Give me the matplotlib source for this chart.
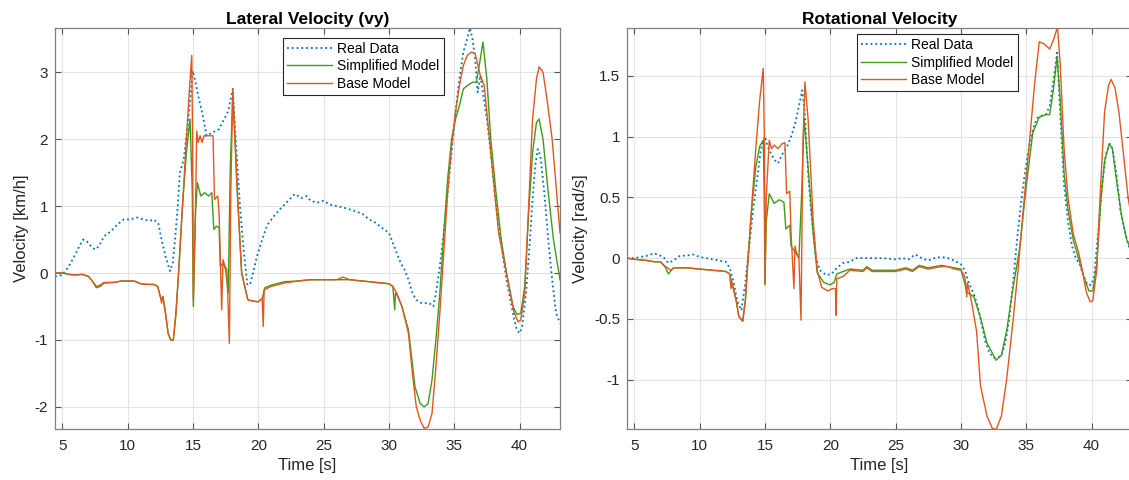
import numpy as np
import matplotlib.pyplot as plt
from matplotlib.ticker import FormatStrFormatter

plt.rcParams['font.family'] = ['Liberation Sans', 'DejaVu Sans']
plt.rcParams['axes.unicode_minus'] = False

# ---- lateral velocity (km/h) ----
lat_real_t = [4.44, 5.0, 5.5, 6.0, 6.3, 6.6, 6.9, 7.2, 7.5, 7.8, 8.2, 8.7, 9.2, 9.7, 10.2,
              10.7, 11.2, 11.7, 12.0, 12.35, 12.6, 12.9, 13.25, 13.45, 13.63, 13.8, 14.0,
              14.3, 14.65, 14.98, 15.2, 15.4, 15.7, 16.05, 16.5, 17.0, 17.4, 17.7, 18.05,
              18.3, 18.6, 18.9, 19.17, 19.4, 19.6, 19.9, 20.3, 20.7, 21.2, 21.7, 22.3, 22.8,
              23.3, 23.7, 24.0, 24.5, 25.0, 25.5, 26.0, 26.5, 27.0, 27.5, 28.0, 28.5, 29.0,
              29.5, 30.0, 30.3, 30.6, 30.9, 31.2, 31.5, 31.8, 32.1, 32.5, 32.8, 33.1, 33.4,
              33.6, 33.9, 34.2, 34.5, 34.8, 35.1, 35.4, 35.7, 36.0, 36.2, 36.4, 36.6, 36.8,
              37.0, 37.2, 37.5, 37.8, 38.1, 38.4, 38.7, 39.0, 39.3, 39.6, 39.8, 40.0, 40.2,
              40.5, 40.8, 41.0, 41.2, 41.4, 41.6, 41.9, 42.2, 42.5, 42.8, 43.1]
lat_real_v = [-0.05, -0.03, 0.1, 0.28, 0.4, 0.5, 0.47, 0.4, 0.35, 0.4, 0.55, 0.62, 0.72,
              0.8, 0.8, 0.83, 0.8, 0.78, 0.8, 0.74, 0.5, 0.25, 0.03, 0.15, 0.5, 0.9, 1.5,
              1.7, 2.3, 3.02, 2.85, 2.65, 2.4, 2.05, 2.1, 2.15, 2.3, 2.42, 2.75, 1.9, 1.0,
              0.3, -0.18, -0.15, 0.0, 0.25, 0.5, 0.72, 0.85, 0.96, 1.08, 1.18, 1.12, 1.15,
              1.08, 1.05, 1.08, 1.02, 1.0, 0.98, 0.95, 0.92, 0.88, 0.8, 0.75, 0.67, 0.6,
              0.45, 0.3, 0.15, 0.05, -0.1, -0.3, -0.4, -0.45, -0.45, -0.45, -0.5, -0.3, 0.1,
              0.6, 1.2, 1.8, 2.4, 2.9, 3.3, 3.5, 3.66, 3.5, 3.2, 2.7, 2.95, 2.7, 2.3, 1.8,
              1.2, 0.7, 0.3, -0.1, -0.4, -0.7, -0.85, -0.9, -0.8, -0.3, 0.5, 1.1, 1.6, 1.85,
              1.75, 1.2, 0.5, -0.1, -0.6, -0.75]

lat_simp_t = [4.44, 5.0, 5.5, 6.0, 6.5, 7.0, 7.3, 7.6, 7.9, 8.2, 9.0, 9.5, 10.0, 10.5, 11.0,
              11.5, 12.0, 12.3, 12.5, 12.6, 12.7, 12.9, 13.1, 13.3, 13.5, 13.7, 13.9, 14.2,
              14.5, 14.78, 14.95, 15.03, 15.2, 15.34, 15.6, 15.9, 16.2, 16.44, 16.6, 16.8,
              17.0, 17.1, 17.3, 17.5, 17.7, 17.85, 18.05, 18.4, 18.73, 19.2, 19.6, 20.0,
              20.3, 20.5, 21.0, 22.0, 23.0, 24.0, 25.0, 26.0, 27.0, 28.0, 29.0, 30.0, 30.3,
              30.45, 30.5, 30.6, 31.0, 31.5, 32.0, 32.4, 32.7, 33.0, 33.3, 33.6, 33.9, 34.2,
              34.5, 34.8, 35.1, 35.4, 35.7, 36.0, 36.4, 36.7, 37.0, 37.2, 37.5, 37.8, 38.2,
              38.6, 39.0, 39.5, 39.8, 40.1, 40.4, 40.7, 41.0, 41.3, 41.5, 41.8, 42.2, 42.6,
              43.1]
lat_simp_v = [0.0, 0.0, -0.02, -0.03, -0.02, -0.05, -0.12, -0.22, -0.2, -0.15, -0.14, -0.12,
              -0.12, -0.12, -0.16, -0.17, -0.17, -0.2, -0.35, -0.4, -0.35, -0.6, -0.9, -1.0,
              -1.0, -0.6, 0.0, 1.0, 1.8, 2.3, 1.2, -0.5, 0.9, 1.35, 1.15, 1.2, 1.15, 1.2,
              0.65, 0.7, 0.68, 0.1, 0.15, 0.05, -0.3, 1.5, 2.7, 1.2, 0.0, -0.4, -0.42, -0.43,
              -0.38, -0.22, -0.18, -0.13, -0.12, -0.1, -0.1, -0.1, -0.1, -0.12, -0.14, -0.16,
              -0.2, -0.55, -0.3, -0.32, -0.5, -0.85, -1.7, -1.95, -2.0, -1.95, -1.6, -1.0,
              -0.3, 0.6, 1.4, 2.0, 2.3, 2.5, 2.75, 2.8, 2.85, 2.85, 3.2, 3.45, 2.9, 2.0, 1.2,
              0.5, 0.0, -0.5, -0.62, -0.6, -0.2, 0.9, 1.8, 2.25, 2.3, 2.0, 1.2, 0.5, -0.1]

lat_base_t = [4.44, 5.0, 5.5, 6.0, 6.5, 7.0, 7.3, 7.6, 7.9, 8.2, 9.0, 9.5, 10.0, 10.5, 11.0,
              11.5, 12.0, 12.3, 12.5, 12.6, 12.7, 12.9, 13.1, 13.3, 13.5, 13.7, 13.9, 14.2,
              14.5, 14.75, 14.91, 14.97, 15.03, 15.2, 15.29, 15.4, 15.55, 15.7, 15.85, 16.2,
              16.54, 16.65, 16.9, 17.0, 17.2, 17.3, 17.45, 17.6, 17.79, 17.9, 18.05, 18.4,
              18.73, 19.2, 19.6, 20.0, 20.3, 20.38, 20.45, 21.0, 22.0, 23.0, 24.0, 25.0,
              26.0, 26.5, 27.0, 28.0, 29.0, 30.0, 30.3, 30.6, 31.0, 31.5, 31.8, 32.1, 32.4,
              32.7, 33.0, 33.3, 33.6, 33.9, 34.2, 34.5, 34.8, 35.1, 35.4, 35.7, 36.0, 36.3,
              36.6, 37.0, 37.3, 37.6, 38.0, 38.4, 38.8, 39.2, 39.6, 39.9, 40.1, 40.4, 40.7,
              41.0, 41.3, 41.5, 41.8, 42.1, 42.5, 42.8, 43.1]
lat_base_v = [0.0, 0.0, -0.02, -0.03, -0.02, -0.05, -0.12, -0.2, -0.18, -0.14, -0.14, -0.12,
              -0.12, -0.12, -0.16, -0.17, -0.17, -0.2, -0.35, -0.45, -0.35, -0.6, -0.9, -1.0,
              -1.0, -0.6, 0.0, 1.0, 2.0, 2.8, 3.25, 2.0, -0.4, 1.0, 2.12, 1.95, 2.05, 1.95,
              2.05, 2.05, 2.05, 1.1, 1.15, 0.9, -0.55, 0.2, 0.1, 0.05, -1.05, 1.2, 2.75, 1.2,
              0.0, -0.4, -0.42, -0.43, -0.38, -0.8, -0.25, -0.2, -0.15, -0.12, -0.1, -0.1,
              -0.1, -0.06, -0.1, -0.12, -0.14, -0.16, -0.2, -0.3, -0.5, -0.9, -1.5, -2.0,
              -2.2, -2.32, -2.3, -2.1, -1.4, -0.6, 0.3, 1.2, 1.9, 2.4, 2.8, 3.1, 3.25, 3.3,
              3.28, 2.95, 2.8, 2.2, 1.4, 0.6, 0.2, -0.2, -0.6, -0.73, -0.7, -0.3, 1.0, 2.3,
              2.9, 3.08, 3.0, 2.6, 2.0, 1.3, 0.6]

# ---- rotational velocity (rad/s) ----
rot_real_t = [4.44, 5.0, 5.5, 6.0, 6.5, 7.0, 7.3, 7.6, 8.0, 8.5, 9.0, 9.5, 10.0, 10.5, 11.0,
              11.5, 12.0, 12.3, 12.6, 12.9, 13.2, 13.5, 13.8, 14.1, 14.4, 14.7, 15.0, 15.2,
              15.5, 15.8, 16.0, 16.3, 16.7, 17.0, 17.3, 17.6, 17.85, 18.05, 18.3, 18.6, 18.9,
              19.2, 19.7, 20.1, 20.5, 21.0, 21.5, 22.0, 23.0, 24.0, 25.0, 25.5, 26.0, 26.5,
              27.0, 27.5, 28.0, 28.5, 29.0, 29.5, 30.0, 30.3, 30.6, 31.0, 31.3, 31.6, 31.9,
              32.2, 32.5, 32.8, 33.1, 33.4, 33.7, 34.0, 34.3, 34.6, 34.9, 35.2, 35.5, 35.8,
              36.1, 36.5, 36.8, 37.0, 37.2, 37.37, 37.6, 37.9, 38.2, 38.5, 38.8, 39.1, 39.4,
              39.7, 40.0, 40.2, 40.5, 40.8, 41.1, 41.4, 41.6, 41.9, 42.2, 42.6, 43.1]
rot_real_v = [0.0, 0.0, 0.01, 0.02, 0.04, 0.02, 0.0, -0.04, -0.02, 0.02, 0.02, 0.03, 0.01,
              0.0, -0.01, -0.02, -0.03, -0.08, -0.2, -0.36, -0.43, -0.2, 0.1, 0.4, 0.65, 0.9,
              1.0, 0.92, 0.85, 0.8, 0.78, 0.85, 0.92, 1.0, 1.1, 1.25, 1.38, 1.2, 0.7, 0.3,
              0.0, -0.1, -0.14, -0.13, -0.08, -0.04, -0.03, 0.0, 0.0, 0.0, -0.01, 0.0, -0.01,
              0.03, 0.0, -0.02, 0.0, 0.01, 0.0, -0.02, -0.05, -0.1, -0.2, -0.3, -0.4, -0.55,
              -0.7, -0.78, -0.82, -0.82, -0.8, -0.7, -0.5, -0.2, 0.15, 0.45, 0.7, 0.9, 1.05,
              1.15, 1.17, 1.18, 1.25, 1.4, 1.55, 1.69, 1.2, 0.6, 0.3, 0.1, 0.0, -0.05, -0.15,
              -0.22, -0.22, -0.15, 0.2, 0.6, 0.85, 0.94, 0.9, 0.7, 0.4, 0.2, 0.0]

rot_simp_t = [4.44, 5.0, 6.0, 6.5, 7.0, 7.4, 7.6, 8.0, 9.0, 10.0, 11.0, 12.0, 12.3, 12.8,
              13.0, 13.3, 13.5, 13.7, 14.0, 14.3, 14.6, 14.87, 14.95, 15.0, 15.1, 15.33,
              15.7, 16.1, 16.45, 16.6, 16.9, 17.0, 17.6, 17.8, 18.0, 18.3, 18.7, 19.0, 19.5,
              20.0, 20.3, 20.5, 21.0, 21.5, 22.5, 22.8, 23.2, 24.0, 25.0, 25.8, 26.3, 26.8,
              27.5, 28.5, 29.5, 30.0, 30.47, 31.0, 31.5, 32.0, 32.7, 33.1, 33.5, 34.0, 34.5,
              35.0, 35.5, 36.0, 36.5, 36.8, 37.1, 37.37, 37.6, 37.9, 38.2, 38.6, 39.0, 39.4,
              39.8, 40.1, 40.4, 40.7, 41.0, 41.35, 41.6, 41.9, 42.3, 42.7, 43.1]
rot_simp_v = [0.0, -0.01, -0.02, -0.03, -0.03, -0.08, -0.13, -0.08, -0.08, -0.09, -0.1,
              -0.11, -0.13, -0.35, -0.48, -0.52, -0.35, 0.0, 0.42, 0.75, 0.92, 0.97, 0.5,
              -0.22, 0.3, 0.53, 0.45, 0.48, 0.46, 0.24, 0.27, 0.1, 0.0, 0.5, 1.15, 0.75, 0.2,
              -0.12, -0.2, -0.22, -0.2, -0.13, -0.11, -0.09, -0.1, -0.07, -0.1, -0.1, -0.1,
              -0.08, -0.1, -0.06, -0.08, -0.06, -0.08, -0.09, -0.28, -0.32, -0.49, -0.7,
              -0.84, -0.8, -0.6, -0.24, 0.08, 0.59, 1.03, 1.16, 1.18, 1.18, 1.4, 1.66, 1.3,
              0.7, 0.4, 0.15, 0.0, -0.15, -0.27, -0.27, -0.05, 0.45, 0.8, 0.94, 0.9, 0.65,
              0.35, 0.15, 0.05]

rot_base_t = [4.44, 5.0, 6.0, 6.5, 7.0, 7.4, 7.8, 8.0, 9.0, 10.0, 11.0, 12.0, 12.3, 12.4,
              12.5, 12.8, 13.0, 13.3, 13.5, 13.72, 14.0, 14.3, 14.6, 14.87, 14.95, 15.0,
              15.1, 15.33, 15.5, 15.7, 16.0, 16.3, 16.53, 16.66, 16.9, 17.0, 17.22, 17.3,
              17.4, 17.6, 17.76, 17.9, 18.06, 18.3, 18.7, 19.0, 19.34, 19.8, 20.2, 20.4,
              20.45, 20.5, 21.0, 21.5, 22.5, 22.8, 23.2, 24.0, 25.0, 25.8, 26.3, 26.8, 27.5,
              28.5, 29.0, 29.5, 30.0, 30.3, 30.45, 30.5, 30.8, 31.2, 31.5, 32.0, 32.4, 32.7,
              33.1, 33.5, 34.0, 34.4, 34.75, 35.26, 35.65, 36.0, 36.4, 36.8, 37.1, 37.4, 37.6,
              37.9, 38.2, 38.6, 39.0, 39.3, 39.6, 39.9, 40.1, 40.4, 40.7, 41.0, 41.3, 41.5,
              41.8, 42.1, 42.5, 42.8, 43.1]
rot_base_v = [0.0, -0.01, -0.02, -0.03, -0.03, -0.07, -0.1, -0.08, -0.08, -0.09, -0.1,
              -0.11, -0.13, -0.25, -0.2, -0.35, -0.48, -0.52, -0.35, 0.0, 0.45, 0.9, 1.3,
              1.56, 1.0, -0.21, 0.5, 0.97, 0.9, 0.93, 0.9, 0.94, 0.95, 0.53, 0.55, 0.2,
              -0.25, 0.1, 0.05, 0.0, -0.51, 0.9, 1.45, 1.15, 0.3, -0.1, -0.24, -0.27, -0.25,
              -0.25, -0.47, -0.17, -0.15, -0.1, -0.11, -0.08, -0.11, -0.11, -0.11, -0.09,
              -0.11, -0.07, -0.09, -0.07, -0.07, -0.09, -0.1, -0.15, -0.32, -0.2, -0.35,
              -0.6, -1.05, -1.3, -1.4, -1.41, -1.3, -1.0, -0.51, -0.07, 0.37, 0.97, 1.44, 1.78,
              1.76, 1.72, 1.8, 1.9, 1.6, 0.9, 0.5, 0.2, 0.05, -0.1, -0.28, -0.36, -0.35,
              -0.1, 0.6, 1.2, 1.42, 1.47, 1.4, 1.2, 0.8, 0.5, 0.3]

blue = '#0072BD'
green = '#3E9B1A'
orange = '#E0581E'

fig = plt.figure(figsize=(11.29, 4.8), dpi=100)
ax1 = fig.add_axes([55 / 1129, 51 / 480, 505 / 1129, 401 / 480])
ax2 = fig.add_axes([627 / 1129, 51 / 480, 505 / 1129, 401 / 480])

panels = [
    (ax1, 'Lateral Velocity (vy)', 'Velocity [km/h]', (-2.33, 3.66), range(-2, 4),
     lat_real_t, lat_real_v, lat_simp_t, lat_simp_v, lat_base_t, lat_base_v, 0.452, 0.976),
    (ax2, 'Rotational Velocity', 'Velocity [rad/s]', (-1.406, 1.893),
     [-1, -0.5, 0, 0.5, 1, 1.5],
     rot_real_t, rot_real_v, rot_simp_t, rot_simp_v, rot_base_t, rot_base_v, 0.456, 0.985),
]

for ax, title, ylab, ylim, yt, rt, rv, st, sv, bt, bv, legx, legy in panels:
    ax.plot(rt, rv, ':', color=blue, lw=1.3, label='Real Data')
    ax.plot(st, sv, '-', color=green, lw=1.0, label='Simplified Model')
    ax.plot(bt, bv, '-', color=orange, lw=1.0, label='Base Model')
    ax.set_xlim(4.44, 43.1)
    ax.set_ylim(*ylim)
    ax.set_xticks(range(5, 41, 5))
    ax.set_yticks(yt)
    ax.yaxis.set_major_formatter(FormatStrFormatter('%g'))
    ax.grid(True, color='#e3e3e3', lw=0.8)
    ax.set_axisbelow(True)
    ax.tick_params(direction='in', top=True, right=True, length=4, width=0.8,
                   color='#555555', labelsize=11, labelcolor='#262626')
    ax.tick_params(axis='x', pad=7)
    ax.tick_params(axis='y', pad=5)
    for s in ax.spines.values():
        s.set_color('#808080')
        s.set_linewidth(0.9)
    ax.set_title(title, fontsize=12.5, fontweight='bold', pad=3)
    ax.set_xlabel('Time [s]', fontsize=12, color='#262626', labelpad=4)
    ax.set_ylabel(ylab, fontsize=12, color='#262626', labelpad=4)
    leg = ax.legend(loc='upper left', bbox_to_anchor=(legx, legy), borderaxespad=0,
                    fontsize=10, fancybox=False, framealpha=1, edgecolor='#262626',
                    handlelength=3.2, handletextpad=0.4, borderpad=0.3,
                    labelspacing=0.25)
    leg.get_frame().set_linewidth(0.8)

fig.savefig('out.png', dpi=100)
